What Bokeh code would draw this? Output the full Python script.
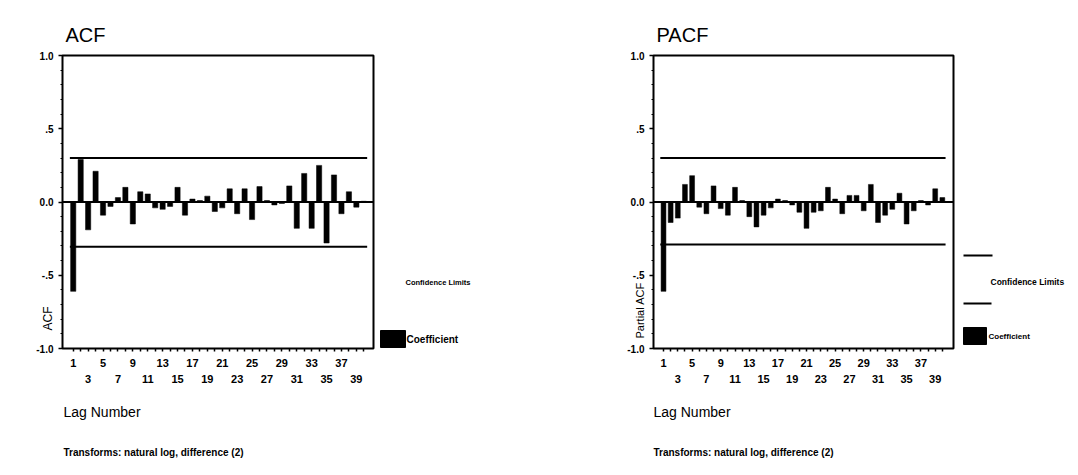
import math
from bokeh.plotting import figure
from bokeh.models import Range1d, FixedTicker, LinearAxis, Span, Title
from bokeh.layouts import row
from bokeh.embed import file_html
from bokeh.resources import INLINE
from bokeh.core.properties import value

# ---------------- data ----------------
lags = list(range(1, 41))
acf_values = [-0.61, 0.29, -0.19, 0.21, -0.09, -0.03, 0.03, 0.10, -0.15, 0.07,
              0.055, -0.04, -0.05, -0.03, 0.10, -0.09, 0.02, 0.01, 0.04, -0.065,
              -0.04, 0.09, -0.08, 0.09, -0.12, 0.105, 0.01, -0.02, -0.01, 0.11,
              -0.18, 0.195, -0.18, 0.25, -0.28, 0.185, -0.08, 0.07, -0.035, 0.005]
pacf_values = [-0.61, -0.14, -0.11, 0.12, 0.18, -0.035, -0.08, 0.11, -0.045, -0.09,
               0.10, 0.01, -0.10, -0.17, -0.09, -0.04, 0.02, 0.01, -0.02, -0.07,
               -0.18, -0.07, -0.06, 0.10, 0.02, -0.08, 0.045, 0.045, -0.06, 0.12,
               -0.14, -0.09, -0.05, 0.06, -0.15, -0.06, 0.01, -0.02, 0.09, 0.03]
acf_conf = (-0.305, 0.30)
pacf_conf = (-0.29, 0.30)
upper_row_lags = [1, 5, 9, 13, 17, 21, 25, 29, 33, 37]
lower_row_lags = [3, 7, 11, 15, 19, 23, 27, 31, 35, 39]
y_ticks = [-1.0, -0.5, 0.0, 0.5, 1.0]
y_tick_labels = ["-1.0", "-.5", "0.0", ".5", "1.0"]
panel_titles = ["ACF", "PACF"]
y_axis_labels = ["ACF", "Partial ACF"]
x_axis_label = "Lag Number"
footnote = "Transforms: natural log, difference (2)"
legend_conf_label = "Confidence Limits"
legend_coef_label = "Coefficient"

# ---------------- layout / style ----------------
FONT = "Liberation Sans"
H = 470
FRAME_TOP = 55
FRAME_BOTTOM = 348
TOP = FRAME_TOP
BOTTOM = H - FRAME_BOTTOM


def make_panel(vals, conf, title, ylabel, width, left, x_start, x_end, bar_w,
               ylab_offset, ylab_size, txt_offset):
    p = figure(width=width, height=H, x_range=Range1d(x_start, x_end),
               y_range=Range1d(-1, 1), min_border_left=left, min_border_right=2,
               min_border_top=TOP, min_border_bottom=BOTTOM,
               toolbar_location=None, output_backend="svg", title=title)
    p.background_fill_color = "white"
    p.border_fill_color = "white"
    p.outline_line_color = "black"
    p.outline_line_width = 2
    p.grid.visible = False
    p.title.text_font = FONT
    p.title.text_font_size = "20px"
    p.title.text_font_style = "normal"
    p.title.text_color = "black"
    p.title.align = "left"
    p.title.offset = 3
    p.title.standoff = 20

    # bars
    p.vbar(x=lags, top=vals, bottom=0, width=bar_w, fill_color="black",
           line_color="black", line_width=0.5)
    # confidence limits
    xs = [lags[0] - 0.45, lags[-1] + 0.45]
    p.line(xs, [conf[1], conf[1]], line_color="black", line_width=2)
    p.line(xs, [conf[0], conf[0]], line_color="black", line_width=2)
    p.add_layout(Span(location=0, dimension="width", line_color="black", line_width=2))

    # y axis
    ya = p.yaxis[0]
    ya.ticker = FixedTicker(ticks=y_ticks,
                            minor_ticks=[round(-1 + 0.1 * i, 1) for i in range(21)])
    ya.major_label_overrides = {t: l for t, l in zip(y_ticks, y_tick_labels)}
    ya.axis_line_color = None
    ya.major_tick_out = 4
    ya.major_tick_in = 0
    ya.minor_tick_out = 2
    ya.minor_tick_in = 0
    ya.major_tick_line_width = 1.5
    ya.major_label_standoff = 5
    ya.major_label_text_font = FONT
    ya.major_label_text_font_style = "bold"
    ya.major_label_text_font_size = "10px"
    ya.major_label_text_color = "black"

    # x axis, upper row of labels
    xa = p.xaxis[0]
    xa.ticker = FixedTicker(ticks=lags, minor_ticks=[])
    xa.major_label_overrides = {l: (str(l) if l in upper_row_lags else "") for l in lags}
    xa.axis_line_color = None
    xa.major_tick_out = 3
    xa.major_tick_in = 0
    xa.major_tick_line_width = 1.5
    xa.major_label_standoff = 7
    xa.major_label_text_font = FONT
    xa.major_label_text_font_style = "bold"
    xa.major_label_text_font_size = "11px"
    xa.major_label_text_color = "black"

    # x axis, lower row of labels
    xb = LinearAxis(ticker=FixedTicker(ticks=lower_row_lags, minor_ticks=[]))
    xb.axis_line_color = None
    xb.major_tick_line_color = None
    xb.minor_tick_line_color = None
    xb.major_tick_out = 0
    xb.major_tick_in = 0
    xb.major_label_standoff = 5
    xb.major_label_text_font = FONT
    xb.major_label_text_font_style = "bold"
    xb.major_label_text_font_size = "11px"
    xb.major_label_text_color = "black"
    p.add_layout(xb, "below")

    # axis titles and note
    p.add_layout(Title(text=ylabel, align="left", offset=ylab_offset, standoff=-43,
                       text_font=FONT, text_font_size=ylab_size,
                       text_font_style="normal", text_color="black"), "left")
    p.add_layout(Title(text=x_axis_label, align="left", offset=txt_offset, standoff=32,
                       text_font=FONT, text_font_size="14px",
                       text_font_style="normal", text_color="black"), "below")
    p.add_layout(Title(text=footnote, align="left", offset=txt_offset, standoff=18,
                       text_font=FONT, text_font_size="10px",
                       text_font_style="bold", text_color="black"), "below")
    return p


def make_legend(x0, width, conf_lines, conf_pos, conf_size, square, coef_pos, coef_size):
    # ranges expressed in page pixels so that legend items sit where they belong
    p = figure(width=width, height=H, x_range=Range1d(x0, x0 + width),
               y_range=Range1d(FRAME_BOTTOM, FRAME_TOP),
               min_border_left=0, min_border_right=0,
               min_border_top=TOP, min_border_bottom=BOTTOM,
               toolbar_location=None, output_backend="svg")
    p.axis.visible = False
    p.grid.visible = False
    p.outline_line_color = None
    p.background_fill_color = "white"
    p.border_fill_color = "white"
    if conf_lines:
        p.segment(x0=[c[0] for c in conf_lines], x1=[c[1] for c in conf_lines],
                  y0=[c[2] for c in conf_lines], y1=[c[2] for c in conf_lines],
                  line_color="black", line_width=2)
    p.text(x=[conf_pos[0]], y=[conf_pos[1]], text=[legend_conf_label],
           text_font=value(FONT), text_font_size=value(conf_size),
           text_font_style="bold", text_baseline="middle", text_align="left",
           text_color="black")
    p.quad(left=[square[0]], right=[square[1]], top=[square[2]], bottom=[square[3]],
           fill_color="black", line_color="black")
    p.text(x=[coef_pos[0]], y=[coef_pos[1]], text=[legend_coef_label],
           text_font=value(FONT), text_font_size=value(coef_size),
           text_font_style="bold", text_baseline="middle", text_align="left",
           text_color="black")
    return p


acf_p = make_panel(acf_values, acf_conf, panel_titles[0], y_axis_labels[0],
                   375, 62, -0.44, 41.3, 0.7, 18, "12px", 1)
acf_leg = make_legend(375, 185, None, (405, 282), "7.5px", (380, 405, 330, 347),
                      (406, 339), "10px")
pacf_p = make_panel(pacf_values, pacf_conf, panel_titles[1], y_axis_labels[1],
                    395, 93, -0.40, 41.56, 0.68, 10, "11px", 0)
pacf_leg = make_legend(955, 115, [(963, 992, 255), (963, 991, 303)], (990, 281), "8.5px",
                       (963, 986, 327, 344), (988, 336), "8px")

layout = row(acf_p, acf_leg, pacf_p, pacf_leg)
open("out.html", "w").write(file_html(layout, INLINE))
